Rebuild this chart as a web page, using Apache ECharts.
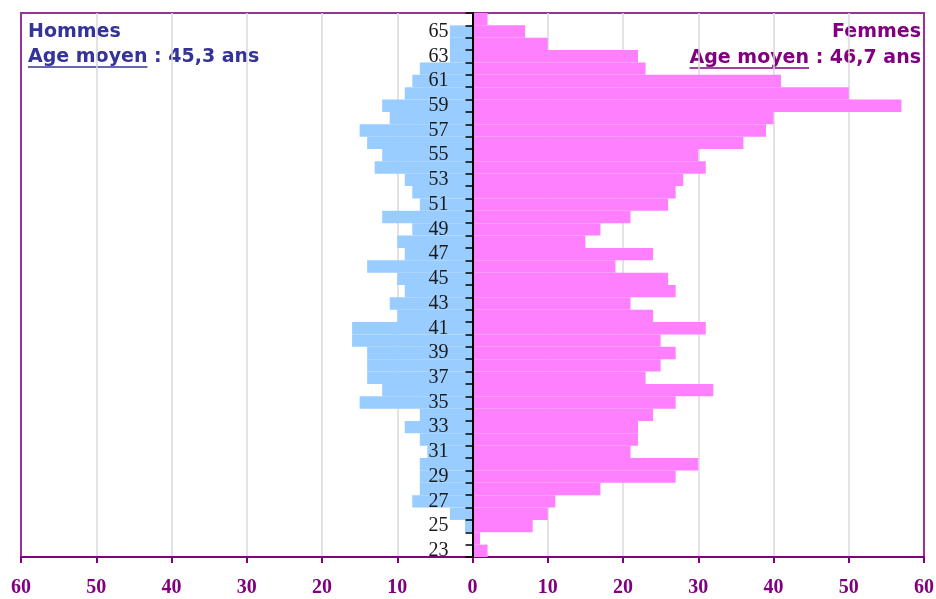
<!DOCTYPE html>
<html>
<head>
<meta charset="utf-8">
<script src="https://cdn.jsdelivr.net/npm/echarts@6/dist/echarts.min.js"></script>
<style>
html, body { margin: 0; padding: 0; background: #fff; }
#chart { width: 936px; height: 599px; }
</style>
</head>
<body>
<div id="chart"></div>
<script>
// ages, from bottom to top
var ages = ['23', '24', '25', '26', '27', '28', '29', '30', '31', '32', '33', '34', '35', '36', '37', '38', '39', '40', '41', '42', '43', '44',
	'45', '46', '47', '48', '49', '50', '51', '52', '53', '54', '55', '56', '57', '58', '59', '60', '61', '62', '63', '64', '65', '66']
// effectifs par age
var hommes = [0, 0, 1, 3, 8, 7, 7, 7, 6, 7, 9, 7, 15, 12, 14, 14, 14, 16, 16, 10, 11, 9,
	10, 14, 9, 10, 8, 12, 7, 8, 9, 13, 12, 14, 15, 11, 12, 9, 8, 7, 3, 3, 3, 0]
var femmes = [2, 1, 8, 10, 11, 17, 27, 30, 21, 22, 22, 24, 27, 32, 23, 25, 27, 25, 31, 24, 21, 27,
	26, 19, 24, 15, 17, 21, 26, 27, 28, 31, 30, 36, 39, 40, 57, 50, 41, 23, 22, 10, 7, 2]
var xMin = -60
var xMax = 60
var xStep = 10
var ageMoyenH = '45,3'
var ageMoyenF = '46,7'

var purple = '#800080'
var blueText = '#333399'
var titleFont = 'bold 19px "DejaVu Sans"'
var gridLeft = 21
var gridRight = 12
var gridWidth = 936 - gridLeft - gridRight

function textWidth(str, font) {
	var ctx = document.createElement('canvas').getContext('2d')
	ctx.font = font
	return ctx.measureText(str).width
}

var lineH = 'Age moyen : ' + ageMoyenH + ' ans'
var lineF = 'Age moyen : ' + ageMoyenF + ' ans'
var wAge = textWidth('Age moyen', titleFont)
var wLineF = textWidth(lineF, titleFont)

var myChart = echarts.init(document.getElementById('chart'))
var option = {
	animation: false,
	grid: {
		left: gridLeft,
		right: gridRight,
		top: 13,
		bottom: 42,
		containLabel: false,
		outerBoundsMode: 'none',
		show: true,
		borderColor: '#993399',
		borderWidth: 2
	},
	xAxis: {
		type: 'value',
		min: xMin,
		max: xMax,
		interval: xStep,
		axisLine: { show: true, onZero: false, lineStyle: { color: purple, width: 2 } },
		axisTick: { show: true, length: 6, lineStyle: { color: purple, width: 2 } },
		axisLabel: {
			margin: 21,
			color: purple,
			fontFamily: 'Liberation Serif',
			fontWeight: 'bold',
			fontSize: 20,
			formatter: function(v) {
				return Math.abs(v)
			}
		},
		splitLine: {
			show: true,
			showMinLine: false,
			showMaxLine: false,
			lineStyle: { color: '#d9d9d9', width: 1.5 }
		}
	},
	yAxis: {
		type: 'category',
		data: ages,
		z: 5,
		position: 'left',
		// axe des ages place sur le zero
		offset: -gridWidth * (0 - xMin) / (xMax - xMin),
		axisLine: { show: true, onZero: false, lineStyle: { color: '#000', width: 2 } },
		axisTick: { show: true, interval: 0, length: 7, lineStyle: { color: '#000', width: 1.5 } },
		axisLabel: {
			interval: 1,
			margin: 24,
			color: '#1a1a1a',
			fontFamily: 'Liberation Serif',
			fontSize: 20
		},
		splitLine: { show: false }
	},
	series: [
		{
			name: 'Hommes',
			type: 'bar',
			stack: 'pyramide',
			barCategoryGap: '0%',
			itemStyle: { color: '#99ccff' },
			data: hommes.map(function(v) {
				return -v
			})
		},
		{
			name: 'Femmes',
			type: 'bar',
			stack: 'pyramide',
			barCategoryGap: '0%',
			itemStyle: { color: '#ff80ff' },
			data: femmes
		}
	],
	graphic: [
		{ type: 'text', x: 28, y: 32, style: { text: 'Hommes', font: titleFont, fill: blueText, align: 'left', verticalAlign: 'middle' } },
		{ type: 'text', x: 28, y: 57, style: { text: lineH, font: titleFont, fill: blueText, align: 'left', verticalAlign: 'middle' } },
		{ type: 'line', shape: { x1: 28, y1: 67, x2: 28 + wAge, y2: 67 }, style: { stroke: blueText, lineWidth: 1.5 } },
		{ type: 'text', x: 921, y: 32, style: { text: 'Femmes', font: titleFont, fill: purple, align: 'right', verticalAlign: 'middle' } },
		{ type: 'text', x: 921, y: 58, style: { text: lineF, font: titleFont, fill: purple, align: 'right', verticalAlign: 'middle' } },
		{ type: 'line', shape: { x1: 921 - wLineF, y1: 68, x2: 921 - wLineF + wAge, y2: 68 }, style: { stroke: purple, lineWidth: 1.5 } }
	]
}
myChart.setOption(option)
</script>
</body>
</html>
